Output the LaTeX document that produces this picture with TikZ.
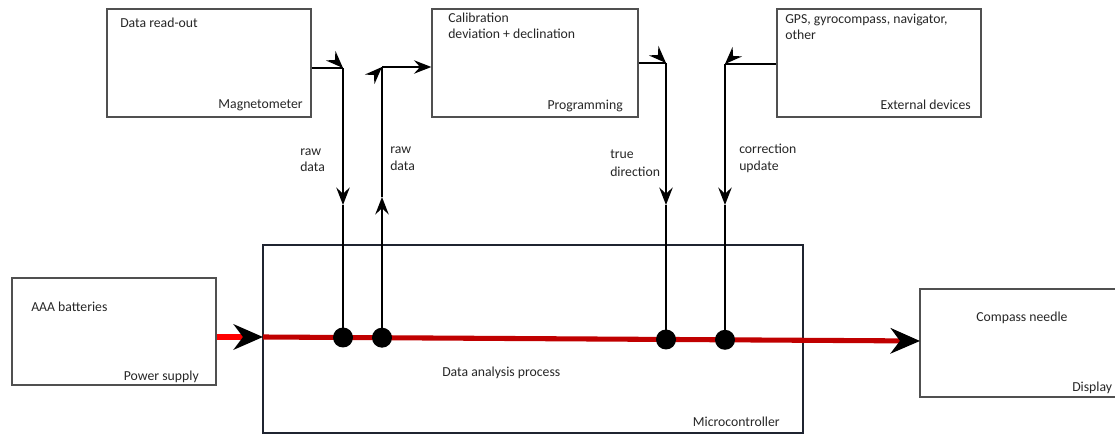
\documentclass[tikz,border=0pt]{standalone}
\usepackage{fontspec}
\setmainfont{Carlito}
\usetikzlibrary{arrows.meta,fit,calc,decorations.markings}
\definecolor{boxgray}{HTML}{505050}
\definecolor{mcnavy}{HTML}{1F2430}
\definecolor{redA}{HTML}{FF0000}
\definecolor{redB}{HTML}{C00000}
\definecolor{txt}{HTML}{262626}
\begin{document}
\begin{tikzpicture}[x=0.75pt,y=-0.75pt,
  box/.style={draw=boxgray, line width=0.9pt, inner sep=0pt},
  mcbox/.style={draw=mcnavy, line width=1.8pt, inner sep=0pt},
  lbl/.style={anchor=base west, inner sep=0pt, text=txt, font=\fontsize{10.3}{12}\selectfont},
  lblr/.style={lbl, anchor=base east},
  conn/.style={draw=black, line width=1.7pt},
  sm/.tip={Stealth[length=13pt,width=10pt,inset=4.5pt]},
  big/.tip={Stealth[length=22pt,width=19pt,inset=7pt]},
  dotn/.style={circle, fill=black, minimum size=15pt, inner sep=0pt},
  cornertip/.style={postaction={decorate}, decoration={markings, mark=at position 1 with {\arrow[line width=1.7pt]{sm}}}},
]
\useasboundingbox (0,0) rectangle (1115,434);

% boxes
\node[box, fit={(107,9) (311,117)}] (mag) {};
\node[box, fit={(432,9) (638,117)}] (prog) {};
\node[box, fit={(777,9) (981,117)}] (ext) {};
\node[box, fit={(12,278) (216,385)}] (ps) {};
\node[mcbox, fit={(263,245) (803,433)}] (mc) {};
\node[box, fit={(920,289) (1130,397)}] (disp) {};

% texts
\node[lbl] at (120,28) {Data read-out};
\node[lblr] at (303,109) {Magnetometer};
\node[lbl] at (448,23) {Calibration};
\node[lbl] at (448,39) {deviation + declination};
\node[lblr] at (623,110) {Programming};
\node[lbl] at (785,24) {GPS, gyrocompass, navigator,};
\node[lbl] at (785,40) {other};
\node[lblr] at (971,110) {External devices};
\node[lbl] at (31,312) {AAA batteries};
\node[lblr] at (199,381) {Power supply};
\node[lbl] at (442,377) {Data analysis process};
\node[lblr] at (780,427) {Microcontroller};
\node[lbl] at (976,322) {Compass needle};
\node[lbl] at (1072,392) {Display};

\node[lbl] at (300,156) {raw};
\node[lbl] at (300,172) {data};
\node[lbl] at (390,154) {raw};
\node[lbl] at (390,171) {data};
\node[lbl] at (610,159) {true};
\node[lbl] at (610,177) {direction};
\node[lbl] at (739,154) {correction};
\node[lbl] at (739,171) {update};

% power line
\coordinate (pin) at (263,337);
\coordinate (pout) at (920,341);
\draw[draw=redA, line width=3.8pt, -{big[color=black]}] (ps.east |- pin) -- (pin);
\draw[draw=redB, line width=3.8pt, -{big[color=black]}] (pin) -- (pout);

% junctions, corners and mid arrow tips
\coordinate (j1) at (343,337.5);
\coordinate (j2) at (382,337.7);
\coordinate (j3) at (666,339.5);
\coordinate (j4) at (725,339.8);
\coordinate (c1) at (343,68);
\coordinate (c2) at (382,67);
\coordinate (c3) at (666,63);
\coordinate (c4) at (725,64);
\coordinate (m1) at (343,205);
\coordinate (m2) at (382,197);
\coordinate (m3) at (666,205);
\coordinate (m4) at (725,205);

% line 1: magnetometer -> microcontroller
\draw[conn] (mag.east |- c1) -- (c1);
\path[cornertip] ($(c1)+(-8,-8)$) -- (c1);
\draw[conn,-sm] (c1) -- (m1);
\draw[conn] (m1) -- (j1);

% line 2: microcontroller -> programming
\draw[conn,-sm] (j2) -- (m2);
\draw[conn] (m2) -- (c2);
\path[cornertip] ($(c2)+(-8,8)$) -- (c2);
\draw[conn,-sm] (c2) -- (prog.west |- c2);

% line 3: programming -> microcontroller
\draw[conn] (prog.east |- c3) -- (c3);
\path[cornertip] ($(c3)+(-8,-8)$) -- (c3);
\draw[conn,-sm] (c3) -- (m3);
\draw[conn] (m3) -- (j3);

% line 4: external devices -> microcontroller
\draw[conn] (ext.west |- c4) -- (c4);
\path[cornertip] ($(c4)+(8,-8)$) -- (c4);
\draw[conn,-sm] (c4) -- (m4);
\draw[conn] (m4) -- (j4);

% junction dots
\node[dotn] (d1) at (j1) {};
\node[dotn] (d2) at (j2) {};
\node[dotn] (d3) at (j3) {};
\node[dotn] (d4) at (j4) {};
\end{tikzpicture}
\end{document}
